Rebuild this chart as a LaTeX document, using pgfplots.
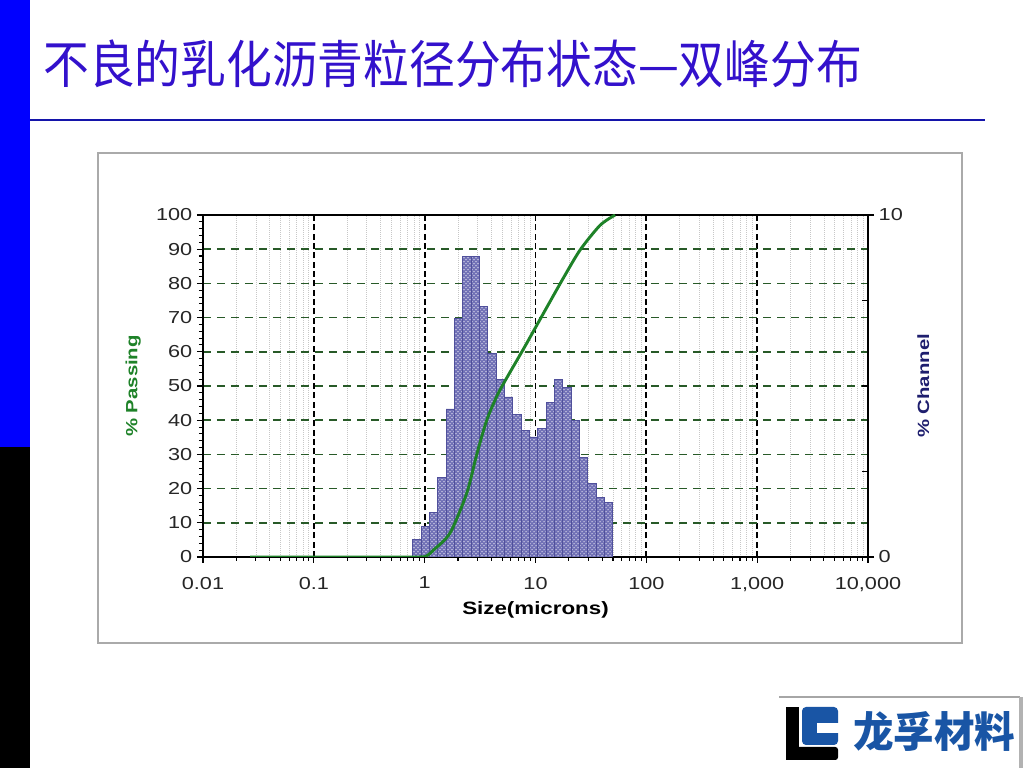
\documentclass[border=0pt]{standalone}
\usepackage{fontspec}
\setmainfont{Liberation Sans}[FakeStretch=1.25]
\newfontfamily\cjk{Noto Sans CJK SC}
\usepackage{graphicx}
\usepackage{pgfplots}
\pgfplotsset{compat=1.18}
\usetikzlibrary{patterns}

\definecolor{titleblue}{RGB}{51,17,204}
\definecolor{sidebar}{RGB}{0,0,255}
\definecolor{rulecol}{RGB}{20,20,170}
\definecolor{framegray}{RGB}{170,170,170}
\definecolor{passgreen}{RGB}{30,130,40}
\definecolor{gridgreen}{RGB}{40,90,40}
\definecolor{chanblue}{RGB}{30,30,110}
\definecolor{barfill}{RGB}{112,112,182}
\definecolor{baredge}{RGB}{80,80,155}
\definecolor{logoblue}{RGB}{25,85,165}

\begin{document}
\begin{tikzpicture}[x=0.75pt,y=0.75pt]
\fill[white] (0,0) rectangle (1024,768);
\fill[sidebar] (0,321) rectangle (30,768);
\fill[black] (0,0) rectangle (30,321);

\node[anchor=south west, inner sep=0, text=titleblue] at (43,680)
  {\resizebox*{614pt}{36pt}{\cjk 不良的乳化沥青粒径分布状态—双峰分布}};
\draw[rulecol, line width=1.6pt] (30,648) -- (985,648);

\draw[framegray, line width=1.5pt] (98,125) rectangle (962,615);

% grid, ticks and left axis  (1px = 0.75pt; axis corner at px (203,557))
\begin{axis}[
  at={(152.25pt,158.25pt)}, anchor=south west, scale only axis,
  width=498.75pt, height=256.5pt,
  xmode=log, xmin=0.01, xmax=10000,
  ymin=0, ymax=100,
  xtick={0.01,0.1,1,10,100,1000,10000},
  xticklabels={0.01,0.1,1,10,100,{1,000},{10,000}},
  minor xtick={0.02,0.03,0.04,0.05,0.06,0.07,0.08,0.09,
               0.2,0.3,0.4,0.5,0.6,0.7,0.8,0.9,
               2,3,4,5,6,7,8,9,
               20,30,40,50,60,70,80,90,
               200,300,400,500,600,700,800,900,
               2000,3000,4000,5000,6000,7000,8000,9000},
  ytick={0,10,...,100},
  minor y tick num=4,
  xtick pos=left, ytick pos=left,
  tick align=outside,
  major tick length=4.5pt, minor tick length=3pt,
  tick style={black, line width=0.8pt},
  xmajorgrids, ymajorgrids, xminorgrids,
  major x grid style={black, line width=1.3pt, dash pattern=on 4.5pt off 2.5pt},
  minor x grid style={black!22, line width=0.5pt, densely dotted},
  major y grid style={gridgreen, line width=1.2pt, dash pattern=on 6pt off 4.5pt},
  axis line style={black, line width=0.9pt},
  /pgf/number format/assume math mode=true,
  ticklabel style={font=\fontsize{13pt}{15pt}\selectfont, text=black!85},
  xticklabel style={yshift=-7pt},
  xlabel={Size(microns)},
  xlabel style={at={(axis description cs:0.5,-0.155)}, anchor=center,
                font=\fontsize{13.4pt}{16pt}\selectfont\bfseries},
  ylabel={\% Passing},
  ylabel style={at={(axis description cs:-0.105,0.5)}, anchor=center,
                font=\fontsize{12.2pt}{14pt}\selectfont\bfseries, text=passgreen},
]
\end{axis}

% histogram on the right axis (% Channel)
\begin{axis}[
  at={(152.25pt,158.25pt)}, anchor=south west, scale only axis,
  width=498.75pt, height=256.5pt,
  xmode=log, xmin=0.01, xmax=10000,
  ymin=0, ymax=10,
  axis x line=none,
  axis y line*=right,
  ytick={0,10},
  extra y ticks={2.5,5,7.5},
  extra y tick labels={},
  extra tick style={tick align=inside, major tick length=4.5pt},
  tick align=outside, major tick length=4.5pt,
  tick style={black, line width=0.8pt},
  axis line style={black, line width=0.9pt},
  /pgf/number format/assume math mode=true,
  ticklabel style={font=\fontsize{13pt}{15pt}\selectfont, text=black!85},
  ylabel={\% Channel},
  ylabel style={at={(axis description cs:1.083,0.5)}, anchor=center,
                font=\fontsize{12.2pt}{14pt}\selectfont\bfseries, text=chanblue},
]
\addplot[ybar interval, fill=barfill, draw=baredge, line width=0.6pt,
  postaction={pattern=crosshatch dots, pattern color=white!80!barfill}]
  coordinates {
  (0.780,0.50) (0.9276,0.89) (1.1031,1.30) (1.3118,2.33)
  (1.560,4.33) (1.8552,6.97) (2.2062,8.78) (2.6236,8.78)
  (3.120,7.33) (3.7103,5.96) (4.4124,5.20) (5.2472,4.68)
  (6.240,4.18) (7.4206,3.70) (8.8247,3.51) (10.494,3.77)
  (12.48,4.53) (14.841,5.20) (17.649,4.97) (20.989,4.00)
  (24.96,2.92) (29.682,2.16) (35.299,1.75) (41.978,1.60)
  (49.92,1.60)
};
\end{axis}

% cumulative curve (% Passing)
\begin{axis}[
  at={(152.25pt,158.25pt)}, anchor=south west, scale only axis,
  width=498.75pt, height=256.5pt,
  xmode=log, xmin=0.01, xmax=10000,
  ymin=0, ymax=100,
  hide axis,
]
\addplot[passgreen, line width=2.2pt, smooth, tension=0.45] coordinates {
  (0.0266,0) (0.3,0) (0.9,0) (1.05,0.4) (1.198,2) (1.694,7)
  (2.399,18.7) (2.951,30) (3.631,40) (4.475,47) (5.27,51.3)
  (7.781,60.8) (9.574,66.0) (12.65,73.0) (17.86,81.6) (25.29,89.8)
  (38.28,97) (52.24,100)
};
\end{axis}

% logo
\fill[white] (779,0) rectangle (1020,71);
\draw[black!35, line width=1.5pt] (779,71) -- (1020,71);
\draw[black!30, line width=2.5pt] (1021,0) -- (1021,71);
\fill[black] (786,8) rectangle (799,61);
\fill[black, rounded corners=2pt] (786,8) rectangle (838,21);
\fill[logoblue, rounded corners=3pt] (802,23) rectangle (838,61);
\fill[white] (817,35) rectangle (839,45);
\node[anchor=south west, inner sep=0, text=logoblue] at (853,16)
  {\resizebox*{121.5pt}{30pt}{\cjk\bfseries 龙孚材料}};
\end{tikzpicture}
\end{document}
